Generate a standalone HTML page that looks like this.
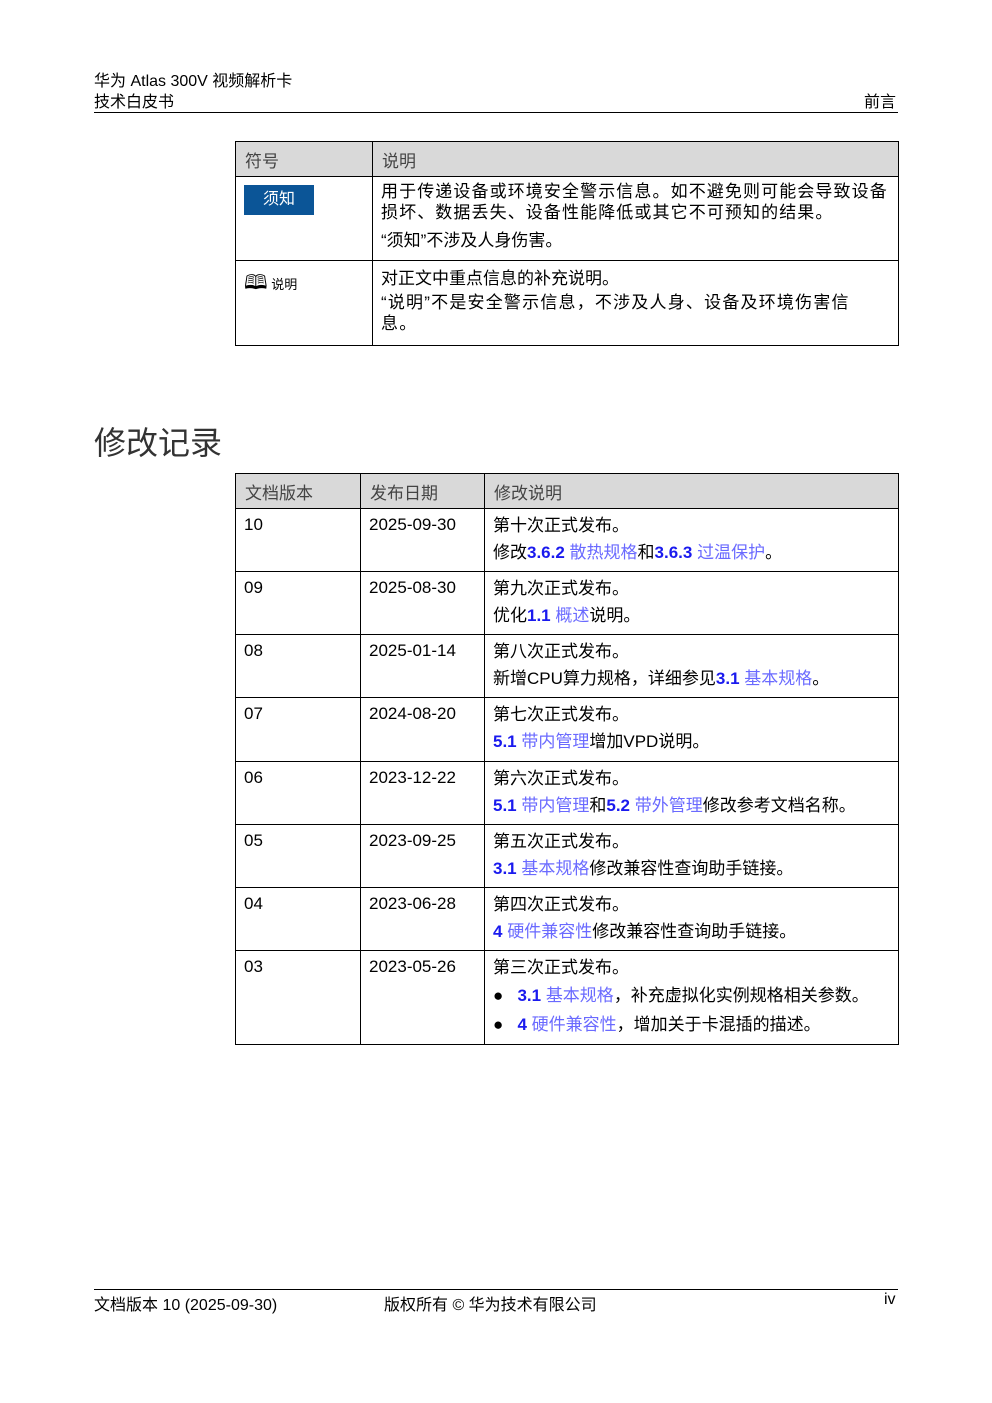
<!DOCTYPE html>
<html><head><meta charset="utf-8"><style>
body{margin:0;width:992px;height:1403px;background:#fff;position:relative;font-family:"Liberation Sans","Noto Sans CJK SC",sans-serif;color:#000;}
.a{position:absolute;white-space:nowrap;}
table{position:absolute;border-collapse:collapse;font-size:17px;table-layout:fixed;}
td{border:1.5px solid #000;vertical-align:top;padding:0 8px;}
th{border:1.5px solid #000;background:#d9d9d9;text-align:left;font-weight:normal;color:#444;font-size:17px;padding:0 9px;height:34px;}
.n{color:#1a1aee;font-weight:bold;}
.l{color:#6a6aff;}
p{margin:0;line-height:27px;white-space:nowrap;}
</style></head><body>
<div class="a" style="left:94px;top:71px;font-size:16px;line-height:21px">华为 Atlas 300V 视频解析卡<br>技术白皮书</div>
<div class="a" style="left:864px;top:92px;font-size:16px;line-height:21px">前言</div>
<div class="a" style="left:94px;top:112px;width:804px;border-top:1px solid #000"></div>

<table style="left:235px;top:141px;width:664px">
<colgroup><col style="width:137px"><col></colgroup>
<tr><th>符号</th><th>说明</th></tr>
<tr style="height:84px"><td><div style="margin-top:8px;width:70px;height:30px;background:#0b5597;color:#fff;font-size:16px;line-height:30px;text-align:center">须知</div></td>
<td style="padding-top:4px"><p style="line-height:21px;letter-spacing:1.1px">用于传递设备或环境安全警示信息。如不避免则可能会导致设备<br>损坏、数据丢失、设备性能降低或其它不可预知的结果。</p><p style="margin-top:4px">“须知”不涉及人身伤害。</p></td></tr>
<tr style="height:85px"><td><div style="margin-top:7px;font-size:13px"><span style="font-size:20px">🕮</span> 说明</div></td>
<td style="padding-top:4px"><p>对正文中重点信息的补充说明。</p><p style="line-height:21px;letter-spacing:1.2px">“说明”不是安全警示信息，不涉及人身、设备及环境伤害信<br>息。</p></td></tr>
</table>

<div class="a" style="left:94px;top:418px;font-size:32px;color:#333">修改记录</div>

<table style="left:235px;top:473px;width:664px">
<colgroup><col style="width:125px"><col style="width:124px"><col></colgroup>
<tr><th>文档版本</th><th>发布日期</th><th>修改说明</th></tr>
<tr style="height:63px"><td style="padding-top:6px">10</td><td style="padding-top:6px">2025-09-30</td><td style="padding-top:3px"><p>第十次正式发布。</p><p>修改<span class="n">3.6.2</span> <span class="l">散热规格</span>和<span class="n">3.6.3</span> <span class="l">过温保护</span>。</p></td></tr>
<tr style="height:63px"><td style="padding-top:6px">09</td><td style="padding-top:6px">2025-08-30</td><td style="padding-top:3px"><p>第九次正式发布。</p><p>优化<span class="n">1.1</span> <span class="l">概述</span>说明。</p></td></tr>
<tr style="height:63px"><td style="padding-top:6px">08</td><td style="padding-top:6px">2025-01-14</td><td style="padding-top:3px"><p>第八次正式发布。</p><p>新增CPU算力规格，详细参见<span class="n">3.1</span> <span class="l">基本规格</span>。</p></td></tr>
<tr style="height:64px"><td style="padding-top:6px">07</td><td style="padding-top:6px">2024-08-20</td><td style="padding-top:3px"><p>第七次正式发布。</p><p><span class="n">5.1</span> <span class="l">带内管理</span>增加VPD说明。</p></td></tr>
<tr style="height:63px"><td style="padding-top:6px">06</td><td style="padding-top:6px">2023-12-22</td><td style="padding-top:3px"><p>第六次正式发布。</p><p><span class="n">5.1</span> <span class="l">带内管理</span>和<span class="n">5.2</span> <span class="l">带外管理</span>修改参考文档名称。</p></td></tr>
<tr style="height:63px"><td style="padding-top:6px">05</td><td style="padding-top:6px">2023-09-25</td><td style="padding-top:3px"><p>第五次正式发布。</p><p><span class="n">3.1</span> <span class="l">基本规格</span>修改兼容性查询助手链接。</p></td></tr>
<tr style="height:63px"><td style="padding-top:6px">04</td><td style="padding-top:6px">2023-06-28</td><td style="padding-top:3px"><p>第四次正式发布。</p><p><span class="n">4</span> <span class="l">硬件兼容性</span>修改兼容性查询助手链接。</p></td></tr>
<tr style="height:94px"><td style="padding-top:6px">03</td><td style="padding-top:6px">2023-05-26</td><td style="padding-top:3px"><p>第三次正式发布。</p><p style="line-height:29px">●&nbsp;&nbsp;&nbsp;<span class="n">3.1</span> <span class="l">基本规格</span>，补充虚拟化实例规格相关参数。</p><p style="line-height:29px">●&nbsp;&nbsp;&nbsp;<span class="n">4</span> <span class="l">硬件兼容性</span>，增加关于卡混插的描述。</p></td></tr>
</table>

<div class="a" style="left:94px;top:1289px;width:804px;border-top:1px solid #000"></div>
<div class="a" style="left:94px;top:1291px;font-size:16px">文档版本 10 (2025-09-30)</div>
<div class="a" style="left:384px;top:1291px;font-size:16px">版权所有 © 华为技术有限公司</div>
<div class="a" style="left:884px;top:1291px;font-size:16px">iv</div>
</body></html>
